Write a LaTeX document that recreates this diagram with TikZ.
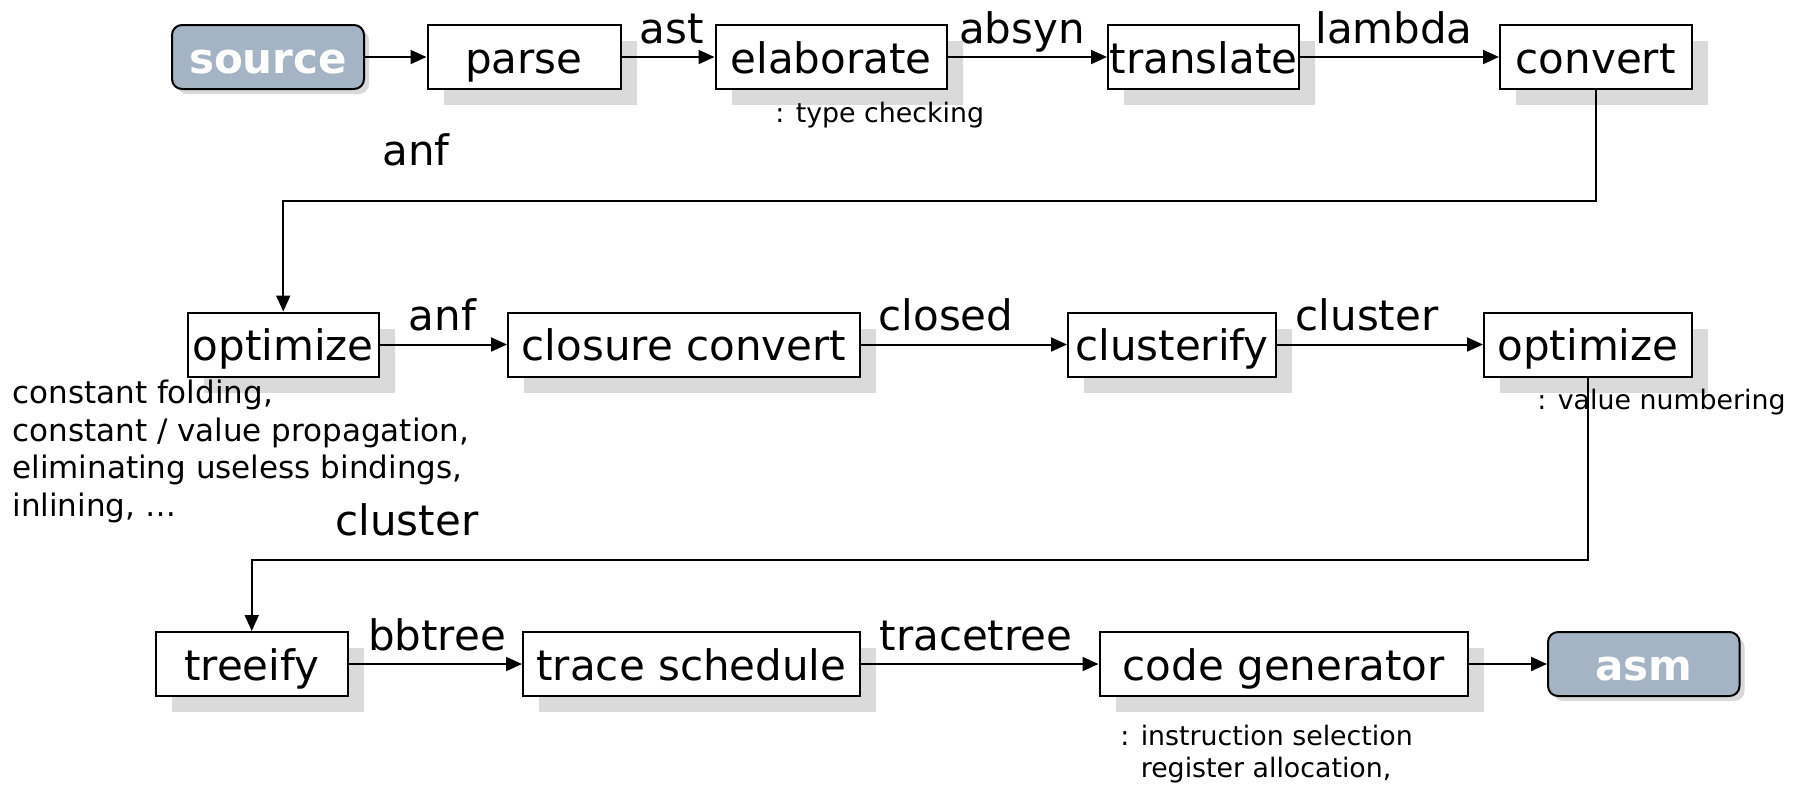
\documentclass[tikz,border=0pt]{standalone}
\usepackage{fontspec}
\setmainfont{DejaVu Sans}
\usetikzlibrary{arrows.meta,shadows}
\definecolor{termfill}{RGB}{164,180,196}
\definecolor{shadowgray}{RGB}{218,218,218}
\begin{document}
\begin{tikzpicture}[x=0.5pt,y=-0.5pt,
  stage/.style={draw, line width=1pt, fill=white, minimum height=32pt, inner sep=0pt,
    text height=16pt, text depth=0pt,
    font=\fontsize{21}{25}\selectfont,
    drop shadow={shadow xshift=8pt, shadow yshift=-8pt, fill=shadowgray, opacity=1}},
  terminal/.style={draw, line width=1pt, rounded corners=5pt, fill=termfill, text=white,
    minimum height=32pt, inner sep=0pt, text height=16pt, text depth=0pt,
    font=\fontsize{21}{25}\selectfont\bfseries,
    drop shadow={shadow xshift=2.5pt, shadow yshift=-2.5pt, fill=black!15, opacity=1}},
  flow/.style={line width=1pt, -{Triangle[length=8pt,width=7pt]}},
  edgelabel/.style={anchor=base, inner sep=0pt, font=\fontsize{21}{25}\selectfont},
  note/.style={anchor=west, inner sep=0pt, font=\fontsize{13.4}{16}\selectfont, align=left},
  remark/.style={anchor=west, inner sep=0pt, font=\fontsize{15.5}{18.9}\selectfont, align=left}
]
\path[use as bounding box] (0,0) rectangle (1798,789);

% row 1: front end
\node[terminal, minimum width=96pt]    (source)    at (268,57)     {source};
\node[stage, minimum width=96.5pt]     (parse)     at (524,57)     {parse};
\node[stage, minimum width=115.5pt]    (elaborate) at (831,57)     {elaborate};
\node[stage, minimum width=95.5pt]     (translate) at (1203.5,57)  {translate};
\node[stage, minimum width=95.75pt]    (convert)   at (1595.75,57) {convert};

% row 2: anf / closure passes
\node[stage, minimum width=95.25pt]    (opt1)       at (283.25,344.5) {optimize};
\node[stage, minimum width=176pt]      (closure)    at (684,344.5)    {closure convert};
\node[stage, minimum width=104pt]      (clusterify) at (1172,344.5)   {clusterify};
\node[stage, minimum width=104pt]      (opt2)       at (1588,344.5)   {optimize};

% row 3: back end
\node[stage, minimum width=96.25pt]    (treeify) at (251.75,664)  {treeify};
\node[stage, minimum width=168.5pt]    (trace)   at (691.5,664)   {trace schedule};
\node[stage, minimum width=184.25pt]   (codegen) at (1283.75,664) {code generator};
\node[terminal, minimum width=95.75pt] (asm)     at (1643.75,664) {asm};

% intermediate representations
\node[edgelabel] (l-ast)     at (672,43)    {ast};
\node[edgelabel] (l-absyn)   at (1022,43)   {absyn};
\node[edgelabel] (l-lambda)  at (1394,43)   {lambda};
\node[edgelabel] (l-anf1)    at (416,165)   {anf};
\node[edgelabel] (l-anf2)    at (442.5,330.5) {anf};
\node[edgelabel] (l-closed)  at (946,330.5) {closed};
\node[edgelabel] (l-cluster1) at (1367,330.5) {cluster};
\node[edgelabel] (l-cluster2) at (407,535.5) {cluster};
\node[edgelabel] (l-bbtree)  at (437,650)   {bbtree};
\node[edgelabel] (l-trace)   at (976,650)   {tracetree};

% pass descriptions
\node[note] (n-type)  at (775,114.7)  {: type checking};
\node[note] (n-value) at (1537,402.5) {: value numbering};
\node[note] (n-code)  at (1120,754.5) {: instruction selection\\\phantom{: }register allocation,};
\node[remark] (n-opt) at (12,451.5) {constant folding,\\constant / value propagation,\\eliminating useless bindings,\\inlining, …};

% connectors
\coordinate (bend1) at (283.25,201);
\coordinate (bend2) at (251.75,560);
\draw[flow] (source) -- (parse);
\draw[flow] (parse) -- (elaborate);
\draw[flow] (elaborate) -- (translate);
\draw[flow] (translate) -- (convert);
\draw[flow] (convert.south) |- (bend1) -- (opt1.north);
\draw[flow] (opt1) -- (closure);
\draw[flow] (closure) -- (clusterify);
\draw[flow] (clusterify) -- (opt2);
\draw[flow] (opt2.south) |- (bend2) -- (treeify.north);
\draw[flow] (treeify) -- (trace);
\draw[flow] (trace) -- (codegen);
\draw[flow] (codegen) -- (asm);
\end{tikzpicture}
\end{document}
